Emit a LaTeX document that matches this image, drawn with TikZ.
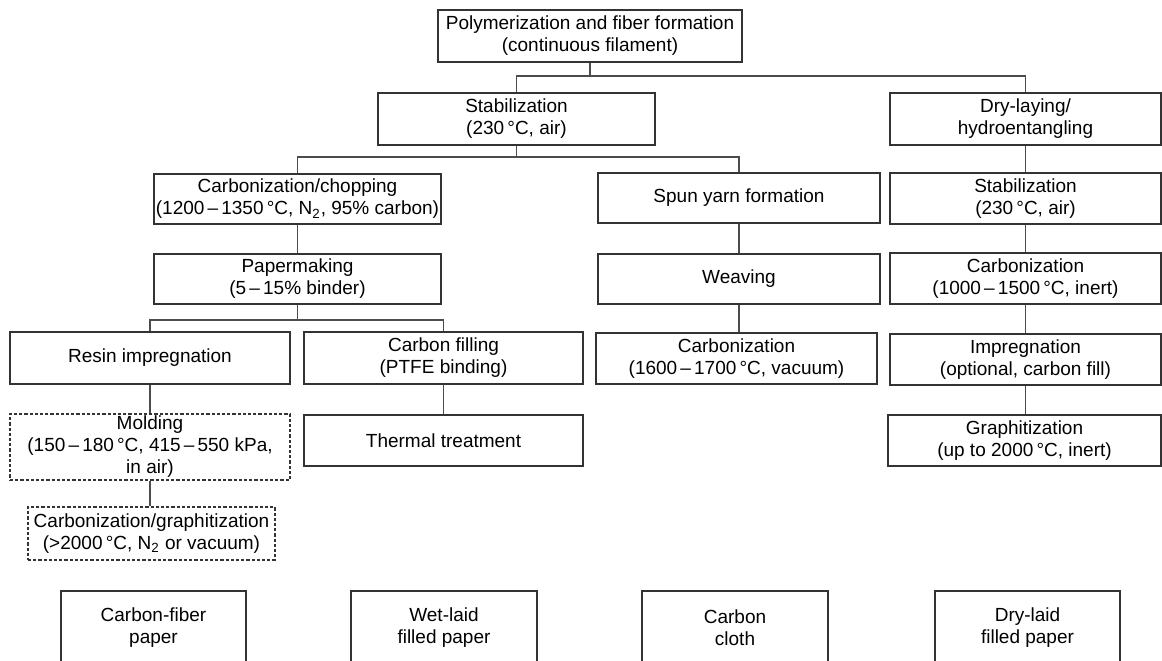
\documentclass[tikz,border=0pt]{standalone}
\usepackage{fontspec}
\setmainfont{Liberation Sans}
\begin{document}
\begin{tikzpicture}[x=0.5pt,y=-0.5pt,
  box/.style={draw=black!80, line width=0.65pt, inner sep=0pt, align=center,
    font=\fontsize{9.5}{11}\selectfont, text=black},
  dbox/.style={box, dash pattern=on 1.6pt off 1pt},
  sz/.style 2 args={minimum width=#1*0.5pt, minimum height=#2*0.5pt},
  link/.style={draw=black!70, line width=0.65pt}]
\useasboundingbox (0,0) rectangle (1162,660);
\node[box,sz={304}{52}] (top) at (590,36) {Polymerization and fiber formation\\(continuous filament)};
\node[box,sz={277}{52}] (stab) at (516.5,119) {Stabilization\\(230\,°C, air)};
\node[box,sz={271}{52}] (dry) at (1025.5,119) {Dry-laying/\\hydroentangling};
\node[box,sz={287}{50}] (carbchop) at (297.5,199) {Carbonization/chopping\\(1200\,–\,1350\,°C, N\textsubscript{2}, 95\% carbon)};
\node[box,sz={282}{50}] (spun) at (739,198) {Spun yarn formation};
\node[box,sz={271}{51}] (stab2) at (1025.5,198.5) {Stabilization\\(230\,°C, air)};
\node[box,sz={287}{50}] (paper) at (297.5,279) {Papermaking\\(5\,–\,15\% binder)};
\node[box,sz={282}{50}] (weav) at (739,279) {Weaving};
\node[box,sz={271}{51}] (carb2) at (1025.5,278.5) {Carbonization\\(1000\,–\,1500\,°C, inert)};
\node[box,sz={280}{52}] (resin) at (150,358) {Resin impregnation};
\node[box,sz={279}{52}] (cfill) at (443.5,358) {Carbon filling\\(PTFE binding)};
\node[box,sz={281}{51}] (carb3) at (736.5,358.5) {Carbonization\\(1600\,–\,1700\,°C, vacuum)};
\node[box,sz={271}{51}] (impreg) at (1025.5,359.5) {Impregnation\\(optional, carbon fill)};
\node[dbox,sz={280}{66}] (mold) at (150,447) {Molding\\(150\,–\,180\,°C, 415\,–\,550 kPa,\\in air)};
\node[box,sz={279}{51}] (therm) at (443.5,440.5) {Thermal treatment};
\node[box,sz={273}{51}] (graph) at (1024.5,440.5) {Graphitization\\(up to 2000\,°C, inert)};
\node[dbox,sz={247}{53}] (cg) at (151.5,533.5) {Carbonization/graphitization\\(>2000\,°C, N\textsubscript{2} or vacuum)};
\node[box,sz={185}{74}] (cfp) at (153.5,628) {Carbon-fiber\\paper};
\node[box,sz={186}{74}] (wet) at (444,628) {Wet-laid\\filled paper};
\node[box,sz={186}{74}] (cloth) at (735,628) {Carbon\\cloth};
\node[box,sz={185}{74}] (drylaid) at (1027.5,628) {Dry-laid\\filled paper};
\coordinate (b1) at (0,76);
\coordinate (b2) at (0,157);
\coordinate (b3) at (0,320);
\draw[link] (top.south) -- (top.south |- b1);
\draw[link] (stab.north) -- (stab.north |- b1) -- (dry.north |- b1) -- (dry.north);
\draw[link] (stab.south) -- (stab.south |- b2);
\draw[link] (carbchop.north) -- (carbchop.north |- b2) -- (spun.north |- b2) -- (spun.north);
\draw[link] (carbchop.south) -- (paper.north);
\draw[link] (paper.south) -- (paper.south |- b3);
\draw[link] (resin.north) -- (resin.north |- b3) -- (cfill.north |- b3) -- (cfill.north);
\draw[link] (resin.south) -- (resin.south |- mold.north);
\draw[link] (mold.south) -- (mold.south |- cg.north);
\draw[link] (cfill.south) -- (cfill.south |- therm.north);
\draw[link] (spun.south) -- (weav.north);
\draw[link] (weav.south) -- (weav.south |- carb3.north);
\draw[link] (dry.south) -- (stab2.north);
\draw[link] (stab2.south) -- (carb2.north);
\draw[link] (carb2.south) -- (impreg.north);
\draw[link] (impreg.south) -- (impreg.south |- graph.north);
\end{tikzpicture}
\end{document}
